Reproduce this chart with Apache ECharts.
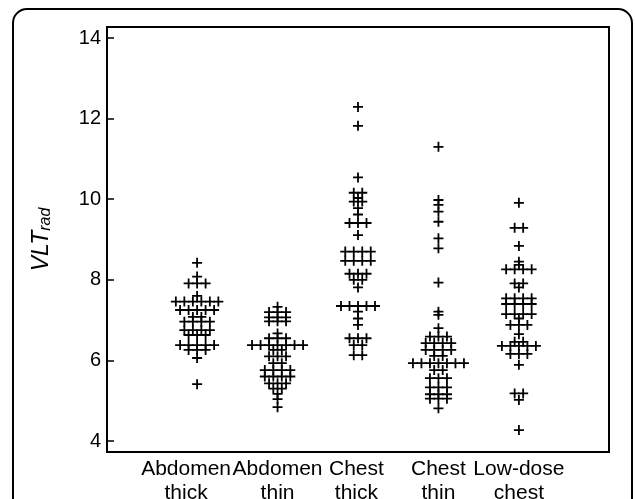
<!DOCTYPE html>
<html>
<head>
<meta charset="utf-8">
<script src="https://cdn.jsdelivr.net/npm/echarts@6/dist/echarts.min.js"></script>
<style>
html,body{margin:0;padding:0;background:#fff;}
#main{width:635px;height:499px;}
</style>
</head>
<body>
<div id="main"></div>
<script>
// ---- data ----
const categories = ['Abdomen\nthick', 'Abdomen\nthin', 'Chest\nthick', 'Chest\nthin', 'Low-dose\nchest'];
const labelPositions = [-0.137, 1, 1.98, 3, 4];
const yTicks = [4, 6, 8, 10, 12, 14];

function rep(v, n) { return Array(n).fill(v); }

const abdomenThick = [8.42, 8.08, ...rep(7.91, 3), 7.6, ...rep(7.46, 6), ...rep(7.25, 5), ...rep(7.08, 2),
  ...rep(6.96, 4), ...rep(6.75, 4), ...rep(6.63, 3), ...rep(6.38, 5), ...rep(6.26, 3), 6.06, 5.41];
const abdomenThin = [7.33, ...rep(7.2, 3), ...rep(7.07, 3), ...rep(6.97, 3), 6.67, ...rep(6.55, 3), ...rep(6.38, 7),
  ...rep(6.26, 2), ...rep(6.1, 3), ...rep(5.93, 2), ...rep(5.76, 4), ...rep(5.6, 4), ...rep(5.43, 3), ...rep(5.3, 2),
  5.17, 5.04, 4.84];
const chestThick = [12.29, 11.82, 10.54, ...rep(10.16, 2), 10.03, ...rep(9.94, 2), 9.78, 9.62, ...rep(9.41, 3), 9.11,
  ...rep(8.7, 4), ...rep(8.47, 4), ...rep(8.15, 3), ...rep(8.0, 2), 7.81, ...rep(7.35, 5), 7.21, 7.04, 6.88,
  ...rep(6.55, 3), ...rep(6.38, 2), ...rep(6.13, 2)];
const chestThin = [11.3, 9.98, 9.86, 9.69, 9.44, 9.03, 8.78, 7.93, 7.21, 7.13, 6.8, ...rep(6.59, 3), ...rep(6.43, 4),
  ...rep(6.26, 4), ...rep(6.11, 2), ...rep(5.93, 7), ...rep(5.76, 2), ...rep(5.56, 3), ...rep(5.33, 3),
  ...rep(5.16, 3), ...rep(5.05, 3), 4.81];
const lowDoseChest = [9.91, ...rep(9.29, 2), 8.84, 8.45, 8.37, ...rep(8.26, 4), ...rep(7.91, 2), 7.81, ...rep(7.54, 4),
  ...rep(7.4, 4), ...rep(7.15, 4), 7.04, ...rep(6.88, 3), 6.65, ...rep(6.46, 2), ...rep(6.36, 5), ...rep(6.16, 3),
  5.89, ...rep(5.18, 2), 5.02, 4.27];

const groups = [abdomenThick, abdomenThin, chestThick, chestThin, lowDoseChest];

// ---- layout ----
const W = 635, H = 499;
const grid = { left: 107, right: 26, top: 27, bottom: 47 };
const xMin = -1.12, xMax = 5.12;
const yMin = 3.727, yMax = 14.273;
const pxPerX = (W - grid.left - grid.right) / (xMax - xMin);
const stepPx = 8.5;

// beeswarm: spread equal values symmetrically around the category
const points = [];
groups.forEach((vals, ci) => {
  const counts = new Map();
  vals.forEach(v => counts.set(v, (counts.get(v) || 0) + 1));
  counts.forEach((n, v) => {
    for (let k = 0; k < n; k++) {
      const off = (k - (n - 1) / 2) * stepPx / pxPerX;
      points.push([ci + off, v]);
    }
  });
});

const plus = 'path://M4.1,0h1.8v4.1h4.1v1.8h-4.1v4.1h-1.8v-4.1h-4.1v-1.8h4.1z';
const font = 'Liberation Sans, Arial, sans-serif';

const chart = echarts.init(document.getElementById('main'), null, { renderer: 'canvas' });
chart.setOption({
  backgroundColor: '#fff',
  animation: false,
  grid: { left: grid.left, right: grid.right, top: grid.top, bottom: grid.bottom, show: true,
    containLabel: false, outerBoundsMode: 'none',
    borderColor: '#000', borderWidth: 2, backgroundColor: 'transparent' },
  xAxis: {
    type: 'value', min: xMin, max: xMax,
    axisLine: { show: true, onZero: false, lineStyle: { color: '#000', width: 2 } },
    axisTick: { show: false },
    splitLine: { show: false },
    axisLabel: {
      customValues: labelPositions,
      formatter: v => categories[Math.abs(Math.round(v))],
      showMinLabel: true, showMaxLabel: true, hideOverlap: false,
      color: '#000', fontSize: 21, fontFamily: font, lineHeight: 24, margin: 5
    }
  },
  yAxis: {
    type: 'value', min: yMin, max: yMax,
    axisLine: { show: true, onZero: false, lineStyle: { color: '#000', width: 2 } },
    axisTick: { show: true, inside: true, length: 7, customValues: yTicks, lineStyle: { color: '#000', width: 1.5 } },
    splitLine: { show: false },
    axisLabel: { customValues: yTicks, color: '#000', fontSize: 20, fontFamily: font, margin: 6 },
    name: '{i|VLT}{s|rad}',
    nameLocation: 'middle', nameRotate: 90, nameGap: 53,
    nameTextStyle: {
      rich: {
        i: { fontSize: 23, fontStyle: 'italic', fontFamily: font, color: '#000' },
        s: { fontSize: 16, fontStyle: 'italic', fontFamily: font, color: '#000', verticalAlign: 'bottom', padding: [9, 0, 0, 0] }
      }
    }
  },
  graphic: [{
    type: 'rect', z: -1, silent: true,
    shape: { x: 13, y: 9, width: 619, height: 600, r: 14 },
    style: { fill: 'none', stroke: '#000', lineWidth: 2 }
  }],
  series: [{
    type: 'scatter',
    data: points,
    symbol: plus,
    symbolSize: 10,
    itemStyle: { color: '#000', opacity: 1 }
  }]
});
</script>
</body>
</html>
